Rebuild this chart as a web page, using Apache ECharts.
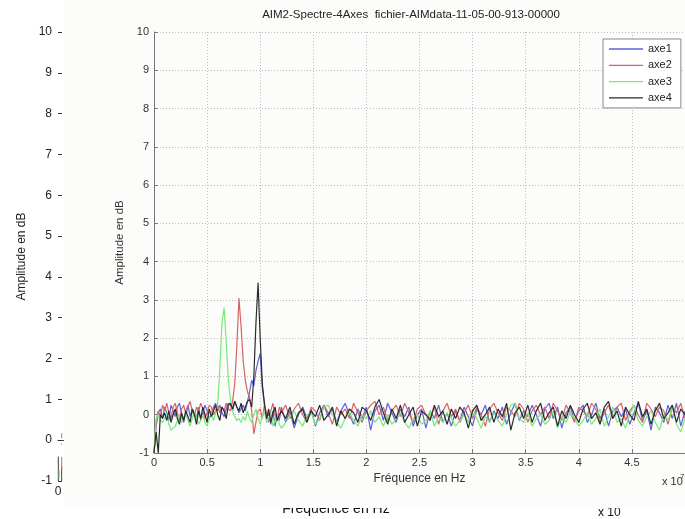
<!DOCTYPE html>
<html>
<head>
<meta charset="utf-8">
<script src="https://cdn.jsdelivr.net/npm/echarts@6/dist/echarts.min.js"></script>
<style>
  html, body { margin: 0; padding: 0; background: #ffffff; }
  #chart { width: 685px; height: 519px; }
</style>
</head>
<body>
<div id="chart"></div>
<script>
// Frequency sampling grid, in units of 1e7 Hz (fine below 1.2, coarse above)
const freq = [];
for (let i = 0; i <= 60; i++) freq.push(+(i * 0.02).toFixed(2));
for (let i = 0; i < 95; i++) freq.push(+(1.24 + i * 0.04).toFixed(2));

// Spectrum amplitude (dB) per axis
const axe1 = [
  -1, -0.3, 0.05, 0.15, -0.1, 0.2, 0.05, -0.15, 0.25, 0.1,
  -0.05, 0.2, 0.3, 0.0, -0.2, 0.1, 0.25, -0.05, 0.15, 0.05,
  -0.1, 0.2, -0.15, 0.05, 0.25, 0.1, -0.1, 0.0, 0.2, 0.3,
  0.1, 0.25, 0.05, -0.05, 0.15, 0.3, 0.25, 0.1, 0.35, 0.2,
  0.05, 0.15, 0.25, 0.1, 0.35, 0.6, 0.9, 0.75, 1.15, 1.4,
  1.6, 0.7, 0.25, -0.1, 0.05, -0.25, 0.1, -0.3, 0.0, -0.15, 0.2,
  -0.2, 0.1, -0.35, 0.0, 0.2, -0.1, 0.15, -0.3, 0.05, 0.25,
  -0.05, 0.15, -0.2, 0.1, 0.3, 0.0, -0.25, 0.15, -0.1, 0.2,
  -0.4, 0.1, 0.25, -0.15, 0.3, 0.05, -0.2, 0.15, -0.05, 0.2,
  -0.3, 0.0, 0.15, -0.35, 0.1, -0.1, 0.25, -0.2, 0.05, -0.3,
  0.1, -0.15, 0.2, -0.05, -0.3, 0.15, 0.0, 0.25, -0.2, 0.1,
  -0.1, 0.2, -0.25, 0.05, 0.3, -0.15, 0.1, -0.05, 0.25, 0.0,
  -0.3, 0.15, 0.3, -0.1, 0.2, -0.35, 0.05, 0.2, -0.15, 0.1,
  0.25, -0.2, 0.0, 0.3, -0.1, 0.15, -0.3, 0.1, 0.2, -0.05,
  0.15, -0.25, 0.05, 0.3, -0.15, 0.1, -0.4, 0.2, 0.05, -0.2,
  0.25, -0.1, 0.3, -0.3, 0.1
];
const axe2 = [
  -1, -0.2, 0.1, -0.05, 0.25, 0.1, 0.3, 0.05, -0.1, 0.2,
  0.3, 0.05, -0.15, 0.15, 0.25, 0.0, 0.2, 0.35, 0.1, -0.05,
  0.2, 0.1, 0.3, 0.15, -0.1, 0.05, 0.25, 0.2, 0.0, 0.1,
  0.25, 0.05, 0.2, 0.1, 0.3, 0.15, 0.1, 0.35, 0.8, 1.8,
  3.05, 2.3, 1.4, 0.9, 0.6, 0.45, 0.1, -0.5, -0.2, 0.1,
  0.15, -0.1, 0.25, 0.05, -0.2, 0.1, 0.3, 0.0, -0.15, 0.2, 0.05,
  0.25, -0.1, 0.15, 0.3, 0.0, -0.2, 0.2, 0.1, -0.15, 0.25,
  0.05, -0.25, 0.2, 0.0, 0.15, -0.1, 0.3, 0.05, -0.2, 0.1,
  0.25, 0.35, 0.0, 0.2, -0.15, 0.1, 0.25, -0.05, 0.3, 0.05,
  -0.2, 0.15, 0.25, 0.0, -0.1, 0.2, -0.25, 0.1, 0.3, -0.05,
  0.15, -0.2, 0.05, 0.25, -0.1, 0.2, 0.0, -0.3, 0.15, 0.3,
  0.05, -0.15, 0.2, 0.1, -0.05, 0.3, 0.15, -0.2, 0.1, 0.25,
  0.0, 0.2, -0.1, 0.3, 0.1, -0.15, 0.25, 0.05, -0.2, 0.2,
  0.1, -0.05, 0.3, 0.15, -0.2, 0.05, 0.25, -0.1, 0.2, 0.3,
  -0.15, 0.1, 0.25, 0.0, -0.2, 0.3, 0.15, -0.05, 0.2, 0.1,
  -0.25, 0.2, 0.05, 0.3, -0.1
];
const axe3 = [
  -1, -0.1, 0.0, -0.15, -0.2, -0.1, 0.05, -0.25, -0.4, -0.35,
  -0.3, -0.15, 0.0, -0.2, -0.1, 0.05, -0.15, -0.3, -0.1, 0.1,
  -0.05, -0.25, -0.15, 0.0, -0.2, -0.3, -0.1, 0.05, -0.15, 0.05,
  0.3, 1.2, 2.4, 2.8, 1.9, 0.9, 0.4, 0.1, -0.05, -0.15,
  -0.1, -0.2, -0.05, -0.15, 0.1, -0.1, -0.2, 0.0, 0.15, -0.1,
  -0.25, -0.05, 0.1, -0.2, -0.1, 0.05, -0.3, -0.15, 0.0, -0.25, -0.35,
  -0.2, -0.05, 0.1, -0.15, -0.3, 0.0, 0.05, -0.25, -0.1, 0.2,
  0.25, 0.0, -0.2, -0.35, -0.1, 0.05, -0.15, -0.3, 0.0, -0.1,
  0.1, -0.2, -0.05, -0.3, 0.0, -0.25, -0.1, 0.05, -0.2, -0.35,
  -0.1, 0.0, -0.25, -0.15, 0.1, -0.3, -0.05, -0.2, 0.05, -0.1,
  -0.3, -0.15, 0.0, -0.2, 0.15, -0.1, -0.35, -0.05, -0.2, 0.05,
  -0.15, -0.3, 0.0, 0.25, 0.3, -0.1, -0.2, 0.05, -0.3, -0.1,
  0.0, -0.25, -0.15, 0.1, -0.35, -0.05, -0.2, 0.05, -0.1, -0.3,
  -0.15, 0.05, -0.25, -0.1, 0.15, -0.3, -0.05, 0.2, -0.2, -0.1,
  -0.35, 0.0, 0.25, -0.15, -0.3, -0.05, 0.1, -0.2, -0.4, 0.0,
  -0.15, 0.2, -0.25, -0.45, -0.1
];
const axe4 = [
  -1, -0.45, -1, 0.0, -0.1, 0.05, -0.15, 0.1, -0.2, 0.0,
  0.15, -0.1, -0.25, 0.05, -0.15, 0.1, -0.05, -0.2, 0.15, 0.0,
  -0.25, 0.1, -0.1, 0.2, 0.0, -0.2, 0.15, -0.05, 0.1, 0.25,
  0.0, -0.15, 0.2, 0.1, -0.1, 0.25, 0.3, 0.15, 0.35, 0.2,
  0.1, 0.3, 0.05, 0.2, 0.35, 0.4, 0.2, 1.0, 2.4, 3.45,
  2.0, 0.8, 0.3, -0.1, 0.15, -0.2, 0.05, 0.2, -0.15, 0.0, 0.1,
  -0.1, 0.2, -0.25, 0.05, 0.15, -0.2, 0.1, -0.05, 0.25, -0.15,
  0.0, 0.2, -0.3, 0.1, -0.1, 0.15, 0.05, -0.2, 0.2, 0.1,
  -0.15, 0.2, 0.4, 0.05, -0.25, 0.15, -0.1, 0.25, -0.2, 0.0,
  0.2, -0.3, 0.1, 0.0, -0.15, 0.25, -0.05, 0.1, -0.25, 0.15,
  -0.1, 0.2, 0.05, -0.35, 0.1, 0.25, -0.15, 0.0, 0.2, -0.2,
  0.15, -0.05, 0.3, -0.4, 0.05, 0.2, -0.1, 0.25, -0.2, 0.1,
  0.3, -0.15, 0.05, 0.2, -0.3, 0.1, -0.1, 0.25, 0.0, -0.2,
  0.15, 0.3, -0.1, 0.05, -0.25, 0.2, 0.35, -0.1, 0.1, -0.3,
  0.2, 0.0, -0.15, 0.35, -0.05, 0.15, -0.25, 0.1, 0.3, -0.1,
  0.05, 0.25, -0.2, 0.15, 0.0
];

const seriesNames = ['axe1', 'axe2', 'axe3', 'axe4'];
const seriesColors = ['#6060dc', '#da6262', '#78ea78', '#2b2b2b'];
const seriesValues = [axe1, axe2, axe3, axe4];

// Tick labels of the outer (background) amplitude axis
const outerTicks = [-1, 0, 1, 2, 3, 4, 5, 6, 7, 8, 9, 10];

// Stray traces of the outer axes, left of the inner figure
const outerTrace4a = [[0.003, -1], [0.003, -0.4]];
const outerTrace4b = [[0.033, -1], [0.033, -0.65]];
const outerTrace2a = [[0.033, 0.17], [0.033, 0.05]];
const outerTrace2b = [[0.033, -0.41], [0.033, -0.73]];
const outerTrace3a = [[0.033, -0.08], [0.033, -0.12]];
const outerTrace3b = [[-0.01, -0.5], [-0.01, -0.56]];
const outerTrace3c = [[0.01, -0.73], [0.01, -0.93]];

const FONT = 'Liberation Sans, Arial, sans-serif';
const chart = echarts.init(document.getElementById('chart'), null, { renderer: 'canvas' });

const pairs = vals => freq.map((f, i) => [f, vals[i]]);

const innerSeries = seriesNames.map((name, k) => ({
  name,
  type: 'line',
  xAxisIndex: 1,
  yAxisIndex: 1,
  data: pairs(seriesValues[k]),
  symbol: 'none',
  smooth: false,
  lineStyle: { color: seriesColors[k], width: 1.2 },
  itemStyle: { color: seriesColors[k] },
  z: 3 + k
}));

const outerTrace = (data, color) => ({
  type: 'line',
  xAxisIndex: 0,
  yAxisIndex: 0,
  data,
  symbol: 'none',
  clip: false,
  lineStyle: { color, width: 1 },
  z: -20,
  silent: true
});

chart.setOption({
  backgroundColor: '#ffffff',
  animation: false,
  textStyle: { fontFamily: FONT },
  graphic: [
    {
      type: 'text', z: -12, z2: 0,
      style: { x: 336, y: 509, text: 'Fréquence en Hz', font: '14px ' + FONT, fill: '#111', textAlign: 'center', textVerticalAlign: 'middle' }
    },
    {
      type: 'rect', z: -10, z2: 1,
      shape: { x: 64, y: 0, width: 621, height: 508 },
      style: { fill: '#fcfcfa' }
    },
    {
      type: 'text', z: -12, z2: 0,
      style: { x: 598, y: 513, text: 'x 10', font: '12px ' + FONT, fill: '#111', textVerticalAlign: 'middle' }
    },
    {
      type: 'text', z: 10,
      style: { x: 411, y: 15, text: 'AIM2-Spectre-4Axes  fichier-AIMdata-11-05-00-913-00000', font: '11.5px ' + FONT, fill: '#222', textAlign: 'center', textVerticalAlign: 'middle' }
    },
    {
      type: 'text', z: 10,
      style: { x: 662, y: 482, text: 'x 10', font: '11px ' + FONT, fill: '#333', textVerticalAlign: 'middle' }
    },
    {
      type: 'text', z: 10,
      style: { x: 680, y: 477, text: '7', font: '8px ' + FONT, fill: '#333', textVerticalAlign: 'middle' }
    }
  ],
  legend: {
    data: seriesNames,
    orient: 'vertical',
    left: 603,
    top: 39,
    icon: 'rect',
    itemWidth: 34,
    itemHeight: 1.3,
    itemGap: 2.3,
    padding: [3, 9, 3, 6],
    backgroundColor: '#ffffff',
    borderColor: '#8a8a8a',
    borderWidth: 1,
    borderRadius: 0,
    textStyle: { fontFamily: FONT, fontSize: 11, lineHeight: 14, color: '#222' },
    z: 20
  },
  grid: [
    { left: 58, right: 71, top: 32, bottom: 38, containLabel: false, z: -20 },
    { left: 154, width: 532, top: 32, bottom: 66, containLabel: false }
  ],
  xAxis: [
    {
      gridIndex: 0, type: 'value', min: 0, max: 5, interval: 1, z: -20,
      axisLine: { show: true, lineStyle: { color: '#444', width: 1 } },
      axisTick: { show: false },
      splitLine: { show: false },
      axisLabel: { fontSize: 12, color: '#222', margin: 5, formatter: v => (v === 0 ? '0' : '') },
      name: '', silent: true
    },
    {
      gridIndex: 1, type: 'value', min: 0, max: 5, interval: 0.5,
      axisLine: { show: true, onZero: false, lineStyle: { color: '#777', width: 1 } },
      axisTick: { show: true, inside: true, length: 4, lineStyle: { color: '#777' } },
      splitLine: { show: true, lineStyle: { color: '#bdbdbd', type: [1, 2], width: 1 } },
      axisLabel: { fontSize: 11, color: '#333', margin: 4, showMaxLabel: false },
      name: 'Fréquence en Hz', nameLocation: 'middle', nameGap: 18,
      nameTextStyle: { fontSize: 12, color: '#333' }
    }
  ],
  yAxis: [
    {
      gridIndex: 0, type: 'value', min: -1, max: 10, interval: 1, z: -20,
      axisLine: { show: false },
      axisTick: { show: true, inside: true, length: 4, lineStyle: { color: '#333' } },
      splitLine: { show: false },
      axisLabel: { fontSize: 12, color: '#222', margin: 6, formatter: v => (outerTicks.includes(v) ? String(v) : '') },
      name: 'Amplitude en dB', nameLocation: 'middle', nameGap: 28,
      nameTextStyle: { fontSize: 12, color: '#222' }
    },
    {
      gridIndex: 1, type: 'value', min: -1, max: 10, interval: 1,
      axisLine: { show: true, onZero: false, lineStyle: { color: '#777', width: 1 } },
      axisTick: { show: true, inside: true, length: 4, lineStyle: { color: '#777' } },
      splitLine: { show: true, lineStyle: { color: '#bdbdbd', type: [1, 2], width: 1 } },
      axisLabel: { fontSize: 11, color: '#333', margin: 5 },
      name: 'Amplitude en dB', nameLocation: 'middle', nameGap: 22,
      nameTextStyle: { fontSize: 11.5, color: '#333' }
    }
  ],
  series: [
    outerTrace(outerTrace4a, '#444'),
    outerTrace(outerTrace4b, '#444'),
    outerTrace(outerTrace2a, '#e06060'),
    outerTrace(outerTrace2b, '#e06060'),
    outerTrace(outerTrace3a, '#60e060'),
    outerTrace(outerTrace3b, '#60e060'),
    outerTrace(outerTrace3c, '#60e060'),
    ...innerSeries
  ]
});
</script>
</body>
</html>
